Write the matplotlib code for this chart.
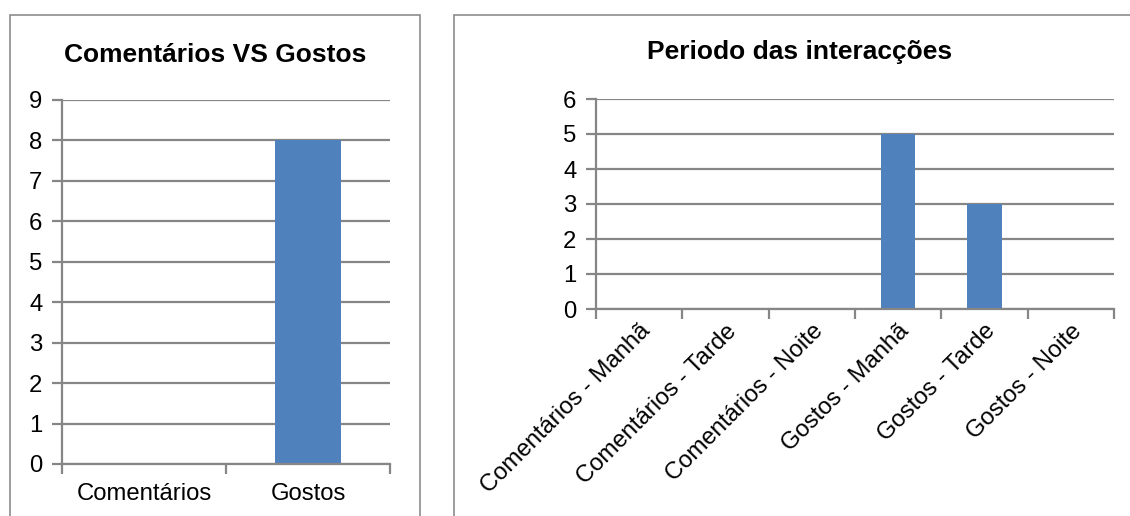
import matplotlib.pyplot as plt
from matplotlib.patches import Rectangle

plt.rcParams['font.family'] = ['Liberation Sans', 'DejaVu Sans']

# totals
tot_labels = ['Comentários', 'Gostos']
tot_values = [0, 8]

# by period of the day
per_labels = ['Comentários - Manhã', 'Comentários - Tarde', 'Comentários - Noite',
              'Gostos - Manhã', 'Gostos - Tarde', 'Gostos - Noite']
per_values = [0, 0, 0, 5, 3, 0]

bar_col = '#4F81BD'
grid_col = '#868686'
lab_size = 17.2

W, H = 1130, 516
fig = plt.figure(figsize=(W / 100, H / 100), dpi=100)

# chart frames (bottom/right run off the page)
fig.patches.append(Rectangle((10 / W, -0.05), 410 / W, 1 - 15 / H + 0.05,
                             transform=fig.transFigure, fill=False,
                             edgecolor='#8c8c8c', lw=1.2, clip_on=False))
fig.patches.append(Rectangle((454 / W, -0.05), 0.7, 1 - 15 / H + 0.05,
                             transform=fig.transFigure, fill=False,
                             edgecolor='#8c8c8c', lw=1.2, clip_on=False))


def style(ax, ymax):
    ax.set_ylim(0, ymax)
    ax.set_yticks(range(ymax + 1))
    ax.yaxis.grid(True, color=grid_col, lw=1.6)
    ax.set_axisbelow(True)
    for s in ['top', 'right']:
        ax.spines[s].set_visible(False)
    for s in ['left', 'bottom']:
        ax.spines[s].set_color(grid_col)
        ax.spines[s].set_linewidth(1.6)
    ax.tick_params(axis='y', length=7, width=1.6, color=grid_col, labelsize=lab_size, pad=7)
    ax.tick_params(axis='x', which='both', length=0, labelsize=lab_size)
    ax.tick_params(axis='x', which='minor', length=7, width=1.6, color=grid_col)


ax1 = fig.add_axes([62 / W, 1 - 464 / H, (390 - 62) / W, (464 - 100) / H])
x1 = range(len(tot_labels))
ax1.bar(x1, tot_values, width=0.4, color=bar_col)
ax1.set_xlim(-0.5, len(tot_labels) - 0.5)
ax1.set_xticks(list(x1))
ax1.set_xticklabels(tot_labels)
ax1.set_xticks([i - 0.5 for i in range(len(tot_labels) + 1)], minor=True)
style(ax1, 9)
ax1.tick_params(axis='x', which='major', pad=14)
fig.text(215 / W, 1 - 55 / H, 'Comentários VS Gostos', ha='center', va='center',
         fontsize=19, fontweight='bold')

ax2 = fig.add_axes([596 / W, 1 - 309 / H, (1114 - 596) / W, (309 - 99) / H])
x2 = range(len(per_labels))
ax2.bar(x2, per_values, width=0.4, color=bar_col)
ax2.set_xlim(-0.5, len(per_labels) - 0.5)
ax2.set_xticks(list(x2))
ax2.set_xticklabels(per_labels, rotation=45, ha='right', rotation_mode='anchor')
ax2.set_xticks([i - 0.5 for i in range(len(per_labels) + 1)], minor=True)
style(ax2, 6)
ax2.tick_params(axis='x', which='major', pad=8)
fig.text(800 / W, 1 - 52 / H, 'Periodo das interacções', ha='center', va='center',
         fontsize=19, fontweight='bold')

fig.savefig('out.png', dpi=100)
